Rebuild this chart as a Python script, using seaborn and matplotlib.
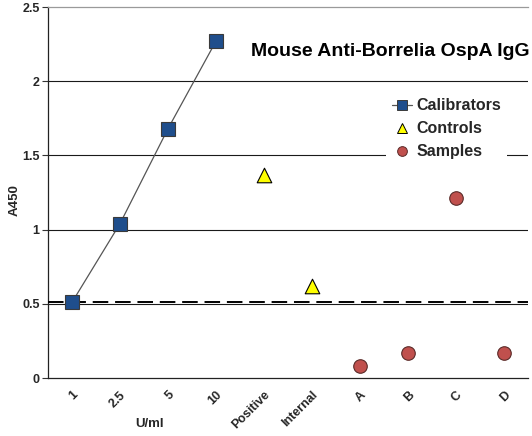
import matplotlib
matplotlib.use("Agg")
import matplotlib.pyplot as plt
import seaborn as sns
from matplotlib.lines import Line2D

# Data
cal_labels = ["1", "2.5", "5", "10"]
cal_values = [0.51, 1.04, 1.68, 2.27]
ctrl_labels = ["Positive", "Internal"]
ctrl_values = [1.37, 0.62]
sample_labels = ["A", "B", "C", "D"]
sample_values = [0.08, 0.17, 1.21, 0.17]
cutoff = 0.515
y_ticks = [0, 0.5, 1, 1.5, 2, 2.5]
y_tick_labels = ["0", "0.5", "1", "1.5", "2", "2.5"]

sns.set_style("white")
plt.rcParams['font.family'] = ['Liberation Sans', 'DejaVu Sans']

fig = plt.figure(figsize=(5.32, 4.36), dpi=100)
ax = fig.add_axes([48/532, 1-378/436, 480/532, 371/436])

sns.lineplot(x=cal_labels, y=cal_values, sort=False, ax=ax, color="#555555",
             linewidth=0.9, marker="s", markersize=10,
             markerfacecolor="#1F4E8C", markeredgecolor="#3a3a3a",
             markeredgewidth=0.8, zorder=4, legend=False)
sns.scatterplot(x=ctrl_labels, y=ctrl_values, ax=ax, marker="^", s=110,
                color="#FFFF00", edgecolor="#000000", linewidth=0.8, zorder=4, legend=False)
sns.scatterplot(x=sample_labels, y=sample_values, ax=ax, marker="o", s=95,
                color="#C0504D", edgecolor="#5a2a28", linewidth=0.8, zorder=4, legend=False)

all_labels = cal_labels + ctrl_labels + sample_labels
n = len(all_labels)
ax.set_xlim(-0.5, n - 0.5)
ax.set_ylim(0, 2.5)

# gridlines
for v in y_ticks[1:-1]:
    ax.axhline(v, color="#1a1a1a", linewidth=0.8, zorder=1)
ax.axhline(cutoff, color="#000000", linewidth=1.4, linestyle=(0, (8, 3.5)), zorder=3)

ax.set_yticks(y_ticks)
ax.set_yticklabels(y_tick_labels, fontsize=9, fontweight="bold")
ax.set_xticks(range(n))
ax.set_xticklabels(all_labels, rotation=45, ha="right", rotation_mode="anchor",
                   fontsize=9, fontweight="bold")
ax.set_xticks([i - 0.5 for i in range(n + 1)], minor=True)
ax.tick_params(axis="x", which="major", length=0, pad=8)
ax.tick_params(axis="x", which="minor", length=4, width=0.8, color="#333333", direction="out")
ax.tick_params(axis="y", length=4, width=0.8, color="#333333", direction="out", left=True, pad=2)

ax.spines["right"].set_visible(False)
ax.spines["top"].set_color("#9a9a9a")
ax.spines["top"].set_linewidth(0.9)
for s in ["left", "bottom"]:
    ax.spines[s].set_color("#222222")
    ax.spines[s].set_linewidth(0.9)

ax.set_xlabel("U/ml", fontsize=9.5, fontweight="bold")
ax.xaxis.set_label_coords((150-48)/480, (378-418)/371)
ax.set_ylabel("A450", fontsize=9.5, fontweight="bold")
ax.yaxis.set_label_coords((21-48)/480, 0.48)

ax.text(1.003, (378-51)/371, "Mouse Anti-Borrelia OspA IgG", transform=ax.transAxes,
        ha="right", va="center", fontsize=14, fontweight="bold", color="#000000", zorder=5)

handles = [
    Line2D([], [], color="#555555", linewidth=0.9, marker="s", markersize=7,
           markerfacecolor="#1F4E8C", markeredgecolor="#3a3a3a", markeredgewidth=0.7),
    Line2D([], [], linestyle="none", marker="^", markersize=7,
           markerfacecolor="#FFFF00", markeredgecolor="#000000", markeredgewidth=0.7),
    Line2D([], [], linestyle="none", marker="o", markersize=7,
           markerfacecolor="#C0504D", markeredgecolor="#5a2a28", markeredgewidth=0.7),
]
leg = ax.legend(handles, ["Calibrators", "Controls", "Samples"],
                loc="upper left", bbox_to_anchor=((378-48)/480, (378-84)/371),
                frameon=True, fancybox=False, edgecolor="none", facecolor="white",
                framealpha=1, handlelength=1.25, handletextpad=0.25, labelspacing=0.5,
                borderpad=0.4, prop={"size": 11.5, "weight": "bold"})
leg.set_zorder(6)

fig.savefig("out.png", dpi=100)
